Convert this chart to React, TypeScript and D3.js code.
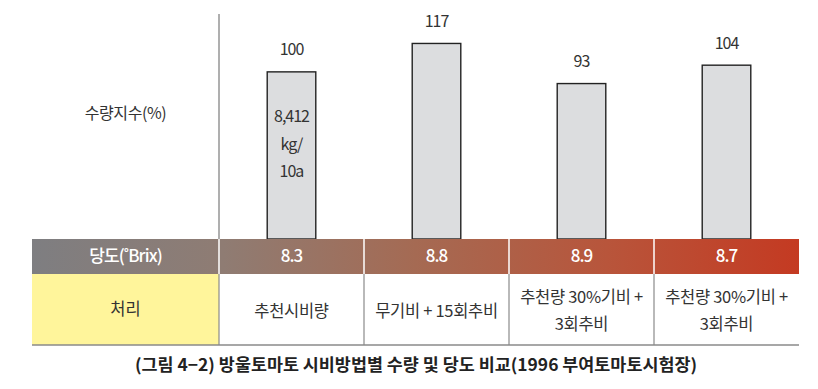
import * as d3 from "d3"

// 처리별 값
const treatments = [
  ["추천시비량"],
  ["무기비 + 15회추비"],
  ["추천량 30%기비 +", "3회추비"],
  ["추천량 30%기비 +", "3회추비"],
]
const yieldIndex = [100, 117, 93, 104]
const brix = [8.3, 8.8, 8.9, 8.7]
const baseYieldLines = ["8,412", "kg/", "10a"]

const yLabel = "수량지수(%)"
const brixLabel = "당도(˚Brix)"
const treatmentLabel = "처리"
const caption = "(그림 4−2) 방울토마토 시비방법별 수량 및 당도 비교(1996 부여토마토시험장)"

const W = 818
const H = 389
const FONT = "'Noto Sans CJK KR', 'Noto Sans', sans-serif"

export default function App() {
  const tableLeft = 32
  const headerRight = 219
  const tableRight = 799
  const plotTop = 14
  const brixTop = 239
  const brixBottom = 274
  const tableBottom = 345

  const idx = d3.range(yieldIndex.length)
  const x = d3.scaleBand<number>().domain(idx).range([headerRight, tableRight])
  const y = d3.scaleLinear().domain([0, 143]).range([brixTop, 0])
  const barW = x.bandwidth() * 0.335
  const fmt = d3.format(".1f")

  const gradStops = [
    { offset: "0%", color: "#7e7e81" },
    { offset: "25%", color: "#8f7c73" },
    { offset: "50%", color: "#a56a53" },
    { offset: "75%", color: "#b8553b" },
    { offset: "100%", color: "#c43a22" },
  ]

  return (
    <svg
      width={W}
      height={H}
      style={{ position: "absolute", left: 0, top: 0, background: "#fff" }}
      fontFamily={FONT}
    >
      <defs>
        <linearGradient id="brixGrad" x1="0" x2="1" y1="0" y2="0">
          {gradStops.map((s) => (
            <stop key={s.offset} offset={s.offset} stopColor={s.color} />
          ))}
        </linearGradient>
      </defs>

      {/* 축 */}
      <line x1={headerRight} x2={headerRight} y1={plotTop} y2={brixTop} stroke="#7a7a7a" strokeWidth={1.2} />
      <text
        x={(tableLeft + headerRight) / 2}
        y={y(75)}
        dy="0.35em"
        textAnchor="middle"
        fontSize={16}
        letterSpacing={-0.4}
        fill="#333"
      >
        {yLabel}
      </text>

      {/* 막대 */}
      {idx.map((i) => {
        const cx = (x(i) ?? 0) + x.bandwidth() / 2
        return (
          <g key={i}>
            <rect
              x={cx - barW / 2}
              y={y(yieldIndex[i])}
              width={barW}
              height={brixTop - y(yieldIndex[i])}
              fill="#dcdddf"
              stroke="#222"
              strokeWidth={1.4}
            />
            <text
              x={cx}
              y={y(yieldIndex[i]) - 22}
              dy="0.35em"
              textAnchor="middle"
              fontSize={16}
              letterSpacing={-1}
              fill="#333"
            >
              {yieldIndex[i]}
            </text>
            {i === 0 &&
              baseYieldLines.map((line, k) => (
                <text
                  key={k}
                  x={cx}
                  y={y(yieldIndex[i]) + 45 + k * 27.5}
                  dy="0.35em"
                  textAnchor="middle"
                  fontSize={16}
                  letterSpacing={-1}
                  fill="#333"
                >
                  {line}
                </text>
              ))}
          </g>
        )
      })}

      {/* 당도 행 */}
      <rect
        x={tableLeft}
        y={brixTop}
        width={tableRight - tableLeft}
        height={brixBottom - brixTop}
        fill="url(#brixGrad)"
      />
      {idx.map((i) => (
        <line
          key={i}
          x1={x(i)}
          x2={x(i)}
          y1={brixTop}
          y2={brixBottom}
          stroke="#fff"
          strokeWidth={1.5}
        />
      ))}
      <text
        x={(tableLeft + headerRight) / 2}
        y={(brixTop + brixBottom) / 2}
        dy="0.35em"
        textAnchor="middle"
        fontSize={17}
        fontWeight={500}
        letterSpacing={-0.9}
        fill="#fff"
      >
        {brixLabel}
      </text>
      {idx.map((i) => (
        <text
          key={i}
          x={(x(i) ?? 0) + x.bandwidth() / 2}
          y={(brixTop + brixBottom) / 2}
          dy="0.35em"
          textAnchor="middle"
          fontSize={17}
          fontWeight={500}
          letterSpacing={-1}
          fill="#fff"
        >
          {fmt(brix[i])}
        </text>
      ))}

      {/* 처리 행 */}
      <rect
        x={tableLeft}
        y={brixBottom}
        width={headerRight - tableLeft}
        height={tableBottom - brixBottom}
        fill="#fff59b"
      />
      {idx.map((i) => (
        <line
          key={i}
          x1={x(i)}
          x2={x(i)}
          y1={brixBottom}
          y2={tableBottom}
          stroke="#8a8a8a"
          strokeWidth={1.2}
        />
      ))}
      <text
        x={(tableLeft + headerRight) / 2}
        y={(brixBottom + tableBottom) / 2}
        dy="0.35em"
        textAnchor="middle"
        fontSize={16.5}
        fill="#333"
      >
        {treatmentLabel}
      </text>
      {idx.map((i) => {
        const lines = treatments[i]
        const cy = (brixBottom + tableBottom) / 2 + 1.5
        const lh = 27
        return lines.map((line, k) => (
          <text
            key={`${i}-${k}`}
            x={(x(i) ?? 0) + x.bandwidth() / 2}
            y={cy + (k - (lines.length - 1) / 2) * lh}
            dy="0.35em"
            textAnchor="middle"
            fontSize={16.5}
            letterSpacing={-0.3}
            fill="#333"
          >
            {line}
          </text>
        ))
      })}
      <line x1={tableLeft} x2={tableRight} y1={tableBottom} y2={tableBottom} stroke="#8a8a8a" strokeWidth={1.5} />

      {/* 캡션 */}
      <text
        x={416}
        y={365}
        dy="0.35em"
        textAnchor="middle"
        fontSize={17}
        fontWeight={700}
        textLength={562}
        lengthAdjust="spacingAndGlyphs"
        fill="#222"
      >
        {caption}
      </text>
    </svg>
  )
}
